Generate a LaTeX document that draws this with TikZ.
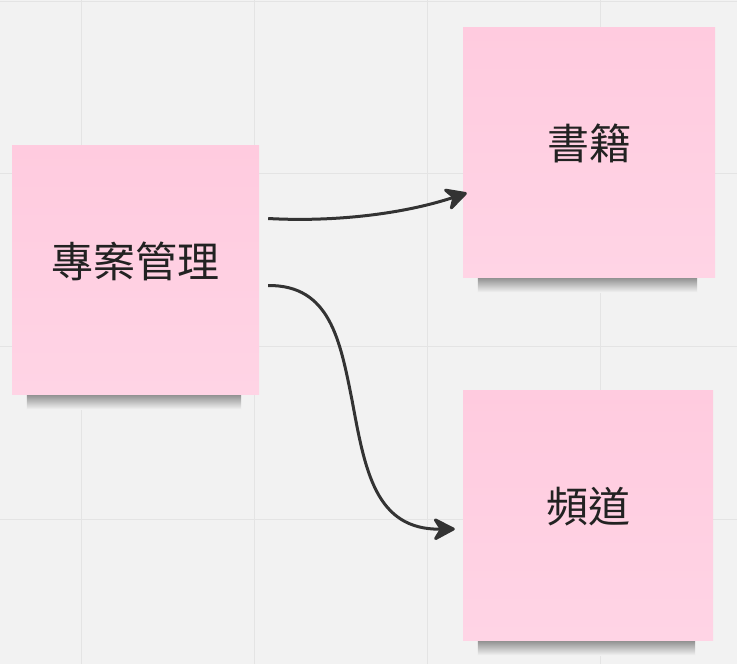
\documentclass[tikz,border=0pt]{standalone}
\usepackage{fontspec}
\setmainfont{Noto Sans CJK TC}
\usepackage{tikz}
\usetikzlibrary{arrows.meta}
\usetikzlibrary{positioning}
\definecolor{board}{RGB}{242,242,242}
\definecolor{gridline}{RGB}{228,228,228}
\definecolor{notetop}{RGB}{255,203,223}
\definecolor{notebot}{RGB}{255,212,229}
\definecolor{ink}{RGB}{34,34,34}
\definecolor{wire}{RGB}{51,51,51}
\pgfdeclarelayer{boardlayer}
\pgfdeclarelayer{shadowlayer}
\pgfsetlayers{boardlayer,shadowlayer,main}
\tikzstyle{note} = [rectangle, minimum width=250pt, minimum height=250pt, inner sep=0pt, top color=notetop, bottom color=notebot, text=ink, font=\fontsize{42}{42}\selectfont, text height=28pt, text depth=13pt]
\tikzstyle{shadow} = [top color=black!42!board, bottom color=board]
\tikzstyle{link} = [line width=3pt, draw=wire, -{Stealth[length=25pt, width=26pt, inset=8pt, round]}]

\begin{document}
\begin{tikzpicture}[x=1pt, y=-1pt]
\begin{pgfonlayer}{boardlayer}
\useasboundingbox[fill=board] (0,0) rectangle (737,664);
\foreach \gx in {81,254,427,600} \draw[gridline, line width=1pt] (\gx,0) -- (\gx,664);
\foreach \gy in {1,173,346,519} \draw[gridline, line width=1pt] (0,\gy) -- (737,\gy);
\end{pgfonlayer}

\node (project) [note, minimum width=247pt, minimum height=249pt] at (135.5,269.5) {專案管理};
\node (books) [note, minimum width=252pt] at (589,152) {書籍};
\node (channel) [note] at (588,515) {頻道};

% shadows under the notes
\begin{pgfonlayer}{shadowlayer}
\foreach \n in {project,books,channel}
  \shade[shadow] ([xshift=15pt]\n.south west) rectangle ([xshift=-18pt,yshift=-15pt]\n.south east);
\end{pgfonlayer}

\coordinate (p1) at ([xshift=9pt,yshift=51pt]project.east);
\coordinate (p2) at ([xshift=9pt,yshift=-16pt]project.east);
\coordinate (b1) at ([xshift=4pt,yshift=-41pt]books.west);
\coordinate (c1) at ([xshift=-8pt,yshift=-14pt]channel.west);
\draw[link] (p1) .. controls (330,222) and (400,215) .. (b1);
\draw[link] (p2) .. controls (330,285) and (340,340) .. (352,400) .. controls (365,470) and (375,530) .. (c1);
\end{tikzpicture}
\end{document}
